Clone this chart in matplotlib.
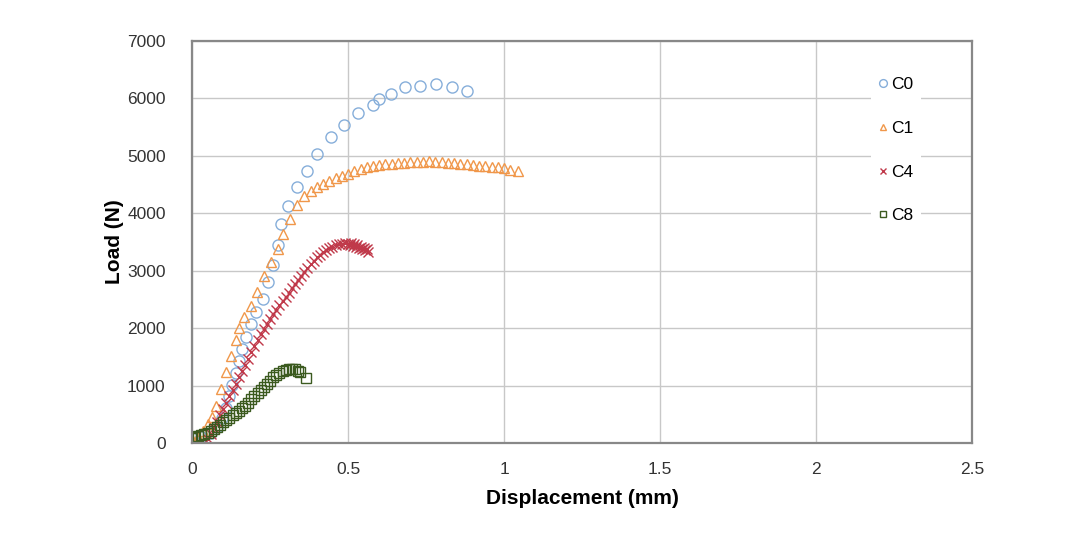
import matplotlib
matplotlib.use('Agg')
import matplotlib.pyplot as plt

plt.rcParams['font.family'] = ['Liberation Sans', 'DejaVu Sans']

# ---- data (displacement mm, load N) ----
c0_x = [0.0, 0.03, 0.06, 0.08, 0.097, 0.108, 0.119, 0.129, 0.14, 0.151, 0.161,
        0.173, 0.189, 0.205, 0.226, 0.245, 0.26, 0.275, 0.286, 0.309, 0.338,
        0.367, 0.399, 0.444, 0.486, 0.531, 0.579, 0.598, 0.637, 0.682, 0.730,
        0.781, 0.833, 0.881]
c0_y = [80, 105, 175, 280, 440, 610, 810, 1015, 1220, 1420, 1630,
        1840, 2065, 2275, 2500, 2800, 3100, 3450, 3815, 4130, 4463,
        4743, 5040, 5320, 5530, 5740, 5880, 5985, 6073, 6195, 6213,
        6248, 6195, 6125]

c1_x = [0.0, 0.02, 0.035, 0.05, 0.063, 0.078, 0.094, 0.11, 0.125, 0.14, 0.152,
        0.167, 0.189, 0.209, 0.231, 0.253, 0.274, 0.293, 0.314, 0.338, 0.36,
        0.38, 0.40, 0.42, 0.44, 0.46, 0.48, 0.50, 0.52, 0.54, 0.56, 0.58, 0.60,
        0.62, 0.64, 0.66, 0.68, 0.70, 0.72, 0.74, 0.76, 0.78, 0.80, 0.82, 0.84,
        0.86, 0.88, 0.90, 0.92, 0.94, 0.96, 0.98, 1.00, 1.02, 1.045]
c1_y = [60, 110, 200, 330, 450, 650, 940, 1230, 1510, 1790, 2010,
        2190, 2385, 2625, 2905, 3150, 3380, 3640, 3900, 4150, 4300,
        4390, 4450, 4510, 4560, 4610, 4650, 4690, 4730, 4770, 4800, 4820, 4840,
        4850, 4860, 4870, 4880, 4890, 4900, 4900, 4905, 4900, 4890, 4880, 4870,
        4860, 4850, 4840, 4830, 4820, 4810, 4800, 4780, 4760, 4730]

c4_x = [0.04, 0.05, 0.06, 0.07, 0.08, 0.09, 0.10, 0.11, 0.12, 0.13, 0.14, 0.15,
        0.16, 0.17, 0.18, 0.19, 0.20, 0.21, 0.22, 0.23, 0.24, 0.25, 0.26, 0.27,
        0.28, 0.29, 0.30, 0.31, 0.32, 0.33, 0.34, 0.35, 0.36, 0.37, 0.38, 0.39,
        0.40, 0.41, 0.42, 0.43, 0.44, 0.45, 0.46, 0.47, 0.48, 0.49, 0.50, 0.505,
        0.51, 0.515, 0.52, 0.525, 0.53, 0.535, 0.54, 0.545, 0.55, 0.555, 0.56, 0.565]
c4_y = [0, 60, 150, 260, 370, 480, 590, 700, 810, 920, 1030, 1140,
        1250, 1360, 1470, 1580, 1690, 1790, 1900, 1990, 2080, 2160, 2240, 2320,
        2400, 2470, 2550, 2620, 2690, 2770, 2840, 2910, 2980, 3050, 3110, 3170,
        3230, 3280, 3320, 3360, 3390, 3420, 3440, 3460, 3470, 3480, 3470, 3450,
        3480, 3430, 3460, 3410, 3440, 3390, 3420, 3370, 3400, 3360, 3380, 3330]

c8_x = [0.0, 0.01, 0.02, 0.03, 0.04, 0.05, 0.06, 0.07, 0.08, 0.09, 0.10, 0.11,
        0.12, 0.13, 0.14, 0.15, 0.16, 0.17, 0.18, 0.19, 0.20, 0.21, 0.22, 0.23,
        0.24, 0.25, 0.26, 0.27, 0.28, 0.29, 0.30, 0.31, 0.32, 0.33, 0.34, 0.345,
        0.365]
c8_y = [80, 100, 120, 140, 160, 180, 200, 240, 280, 320, 360, 400,
        440, 490, 520, 560, 610, 650, 700, 760, 810, 870, 930, 980,
        1030, 1080, 1140, 1180, 1220, 1250, 1270, 1280, 1290, 1280, 1260, 1230,
        1130]

x_ticks = [0, 0.5, 1, 1.5, 2, 2.5]
x_tick_labels = ['0', '0.5', '1', '1.5', '2', '2.5']
y_ticks = [0, 1000, 2000, 3000, 4000, 5000, 6000, 7000]

# ---- figure ----
fig = plt.figure(figsize=(10.91, 5.33), dpi=100)
ax = fig.add_axes([0.176, 0.169, 0.715, 0.754])

ax.plot(c0_x, c0_y, linestyle='none', marker='o', markersize=8,
        markerfacecolor='none', markeredgecolor='#86AEDA', markeredgewidth=1.0, label='C0')
ax.plot(c1_x, c1_y, linestyle='none', marker='^', markersize=7,
        markerfacecolor='none', markeredgecolor='#F0974A', markeredgewidth=1.0, label='C1')
ax.plot(c4_x, c4_y, linestyle='none', marker='x', markersize=7,
        markeredgecolor='#C0394A', markeredgewidth=1.0, label='C4')
ax.plot(c8_x, c8_y, linestyle='none', marker='s', markersize=7,
        markerfacecolor='none', markeredgecolor='#3B5A1F', markeredgewidth=1.0, label='C8')

ax.set_xlim(0, 2.5)
ax.set_ylim(0, 7000)
ax.set_xticks(x_ticks)
ax.set_xticklabels(x_tick_labels)
ax.set_yticks(y_ticks)
ax.tick_params(axis='both', length=0, labelsize=12.5, colors='#333333')
ax.tick_params(axis='y', pad=19)
ax.tick_params(axis='x', pad=14)

ax.grid(True, color='#C8C8C8', linewidth=1.0)
ax.set_axisbelow(True)
for sp in ax.spines.values():
    sp.set_color('#888888')
    sp.set_linewidth(1.6)

ax.set_xlabel('Displacement (mm)', fontsize=15, fontweight='bold')
ax.set_ylabel('Load (N)', fontsize=15, fontweight='bold')
ax.xaxis.set_label_coords(0.5, -0.114)
ax.yaxis.set_label_coords(-0.087, 0.5)

leg = ax.legend(loc='upper left', bbox_to_anchor=(0.79, 0.885), bbox_transform=fig.transFigure,
                frameon=True, fontsize=12.5, markerscale=0.7, handlelength=0.6,
                handletextpad=0.2, labelspacing=1.65, borderpad=0.4)
leg.get_frame().set_facecolor('white')
leg.get_frame().set_edgecolor('none')
leg.get_frame().set_alpha(1.0)

fig.savefig('out.png', dpi=100)
